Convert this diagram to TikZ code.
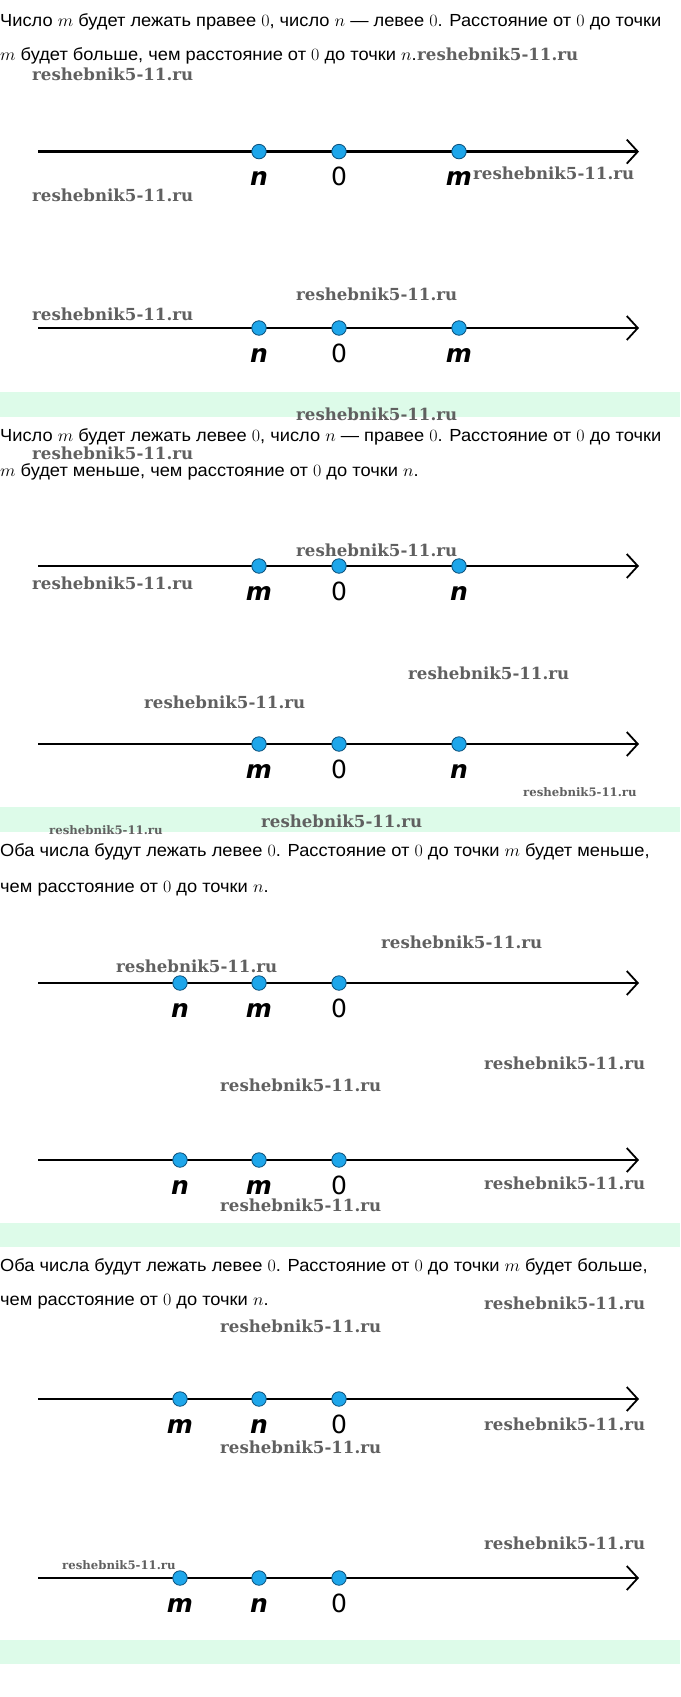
\documentclass[tikz,border=0pt]{standalone}
\usepackage{fontspec}
\setmainfont{Liberation Sans}
\newfontfamily\wmfont{DejaVu Serif}
\newfontfamily\lblfont{DejaVu Sans}
\usetikzlibrary{arrows.meta}
\definecolor{band}{HTML}{DDFBE9}
\definecolor{dotblue}{HTML}{1EA6EA}
\definecolor{dotedge}{HTML}{0B4F7A}
\definecolor{wm}{HTML}{606060}
\newcommand\tline[1]{\scalebox{1.044}[1]{#1}}
\newcommand\lv[1]{{\bfseries\itshape #1}}
\newcommand\nline[3]{%
  \coordinate (#1s) at (38,#2);
  \coordinate (#1e) at (639,#2);
  \draw[axis] (#1s) -- (#1e);
  \foreach \xx/\ll [count=\i] in {#3} {
    \node[pt] (#1p\i) at (\xx,#2) {};
    \node[lbl] (#1l\i) at (\xx,#2+34) {\ll};
  }%
}
\begin{document}
\begin{tikzpicture}[x=1pt,y=-1pt,
  txt/.style={anchor=base west, inner sep=0pt, font=\fontsize{17.5}{20}\selectfont},
  wmark/.style={anchor=west, inner sep=0pt, text=wm, font=\wmfont\bfseries\fontsize{16.6}{19}\selectfont},
  wmsmall/.style={anchor=west, inner sep=0pt, text=wm, font=\wmfont\bfseries\fontsize{11.7}{14}\selectfont},
  axis/.style={line width=2.6pt, -{Straight Barb[length=11pt,width=24pt,line width=1.8pt]}},
  pt/.style={circle, draw=dotedge, fill=dotblue, line width=0.8pt, minimum size=14.5pt, inner sep=0pt},
  lbl/.style={anchor=base, font=\lblfont\fontsize{25}{28}\selectfont, inner sep=0pt},
]
\fill[white] (0,0) rectangle (680,1697);
\useasboundingbox (0,0) rectangle (680,1697);
% bands
\fill[band] (0,392) rectangle (680,417);
\fill[band] (0,807) rectangle (680,832);
\fill[band] (0,1223) rectangle (680,1247);
\fill[band] (0,1640) rectangle (680,1664);
% texts
\node[txt] (t1a) at (0,26) {\tline{Число $m$ будет лежать правее $0$, число $n$ — левее $0$. Расстояние от $0$ до точки}};
\node[txt] (t1b) at (0,60) {\tline{$m$ будет больше, чем расстояние от $0$ до точки $n$.}};
\node[txt] (t2a) at (0,441) {\tline{Число $m$ будет лежать левее $0$, число $n$ — правее $0$. Расстояние от $0$ до точки}};
\node[txt] (t2b) at (0,476) {\tline{$m$ будет меньше, чем расстояние от $0$ до точки $n$.}};
\node[txt] (t3a) at (0,856) {\tline{Оба числа будут лежать левее $0$. Расстояние от $0$ до точки $m$ будет меньше,}};
\node[txt] (t3b) at (0,892) {\tline{чем расстояние от $0$ до точки $n$.}};
\node[txt] (t4a) at (0,1271) {\tline{Оба числа будут лежать левее $0$. Расстояние от $0$ до точки $m$ будет больше,}};
\node[txt] (t4b) at (0,1305) {\tline{чем расстояние от $0$ до точки $n$.}};
% number lines
\nline{a}{151.6}{259/\lv{n}, 339/0, 459/\lv{m}}
\nline{b}{328}{259/\lv{n}, 339/0, 459/\lv{m}}
\nline{c}{566}{259/\lv{m}, 339/0, 459/\lv{n}}
\nline{d}{744}{259/\lv{m}, 339/0, 459/\lv{n}}
\nline{e}{983}{180/\lv{n}, 259/\lv{m}, 339/0}
\nline{f}{1160}{180/\lv{n}, 259/\lv{m}, 339/0}
\nline{g}{1399}{180/\lv{m}, 259/\lv{n}, 339/0}
\nline{h}{1578}{180/\lv{m}, 259/\lv{n}, 339/0}
% watermarks
\node[wmark, anchor=base west] (w1) at (t1b.base east) {reshebnik5-11.ru};
\node[wmark] (w2) at (32,74) {reshebnik5-11.ru};
\node[wmark] (w3) at (473,173) {reshebnik5-11.ru};
\node[wmark] (w4) at (32,195) {reshebnik5-11.ru};
\node[wmark] (w5) at (296,294) {reshebnik5-11.ru};
\node[wmark] (w6) at (32,314) {reshebnik5-11.ru};
\node[wmark] (w7) at (296,414) {reshebnik5-11.ru};
\node[wmark] (w8) at (32,453) {reshebnik5-11.ru};
\node[wmark] (w9) at (296,550) {reshebnik5-11.ru};
\node[wmark] (w10) at (32,583) {reshebnik5-11.ru};
\node[wmark] (w11) at (408,673) {reshebnik5-11.ru};
\node[wmark] (w12) at (144,702) {reshebnik5-11.ru};
\node[wmsmall] (w13) at (523,792) {reshebnik5-11.ru};
\node[wmark] (w14) at (261,821) {reshebnik5-11.ru};
\node[wmsmall] (w15) at (49,830) {reshebnik5-11.ru};
\node[wmark] (w16) at (381,942) {reshebnik5-11.ru};
\node[wmark] (w17) at (116,966) {reshebnik5-11.ru};
\node[wmark] (w18) at (484,1063) {reshebnik5-11.ru};
\node[wmark] (w19) at (220,1085) {reshebnik5-11.ru};
\node[wmark] (w20) at (484,1183) {reshebnik5-11.ru};
\node[wmark] (w21) at (220,1205) {reshebnik5-11.ru};
\node[wmark] (w22) at (484,1303) {reshebnik5-11.ru};
\node[wmark] (w23) at (220,1326) {reshebnik5-11.ru};
\node[wmark] (w24) at (484,1424) {reshebnik5-11.ru};
\node[wmark] (w25) at (220,1447) {reshebnik5-11.ru};
\node[wmark] (w26) at (484,1543) {reshebnik5-11.ru};
\node[wmsmall] (w27) at (62,1565) {reshebnik5-11.ru};
\end{tikzpicture}
\end{document}
